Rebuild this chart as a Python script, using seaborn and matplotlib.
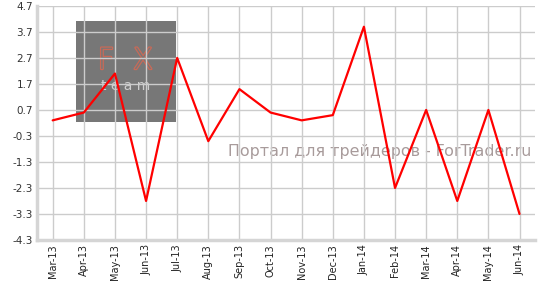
import matplotlib
matplotlib.use("Agg")
import matplotlib.pyplot as plt
import matplotlib.patheffects as pe
from matplotlib.patches import Rectangle
import seaborn as sns
import numpy as np
import pandas as pd

months = ["Mar-13", "Apr-13", "May-13", "Jun-13", "Jul-13", "Aug-13", "Sep-13", "Oct-13",
          "Nov-13", "Dec-13", "Jan-14", "Feb-14", "Mar-14", "Apr-14", "May-14", "Jun-14"]
values = [0.3, 0.6, 2.1, -2.8, 2.7, -0.5, 1.5, 0.6, 0.3, 0.5, 3.9, -2.3, 0.7, -2.8, 0.7, -3.3]
y_ticks = [-4.3, -3.3, -2.3, -1.3, -0.3, 0.7, 1.7, 2.7, 3.7, 4.7]

df = pd.DataFrame({"pos": np.arange(len(months)), "month": months, "value": values})

sns.set_theme(style="white")
plt.rcParams["font.family"] = ["DejaVu Sans"]

fig = plt.figure(figsize=(5.46, 2.82), dpi=100)
ax = fig.add_axes([0.068, 0.149, 0.912, 0.830])

# watermark box and logo
ax.add_patch(Rectangle((0.078, 0.504), 0.201, 0.432, transform=ax.transAxes,
                       facecolor="#777777", edgecolor="none", zorder=0.2))
ax.text(0.177, 0.765, "F  X", transform=ax.transAxes, ha="center", va="center",
        fontsize=21, fontweight="light", color="#777777", zorder=0.3,
        path_effects=[pe.withStroke(linewidth=1.8, foreground="#c86a58")])
ax.text(0.177, 0.66, "t e a m", transform=ax.transAxes, ha="center", va="center",
        fontsize=10, color="#cfcfcf", zorder=0.3)
ax.text(0.688, 0.376, "Портал для трейдеров - ForTrader.ru", transform=ax.transAxes,
        ha="center", va="center", fontsize=11.4, color="#a89b9b", zorder=0.3)

sns.lineplot(data=df, x="pos", y="value", ax=ax, color="#ff0000", linewidth=1.6, zorder=3)

ax.set_xlim(-0.5, 15.5)
ax.set_ylim(-4.3, 4.7)
ax.set_yticks(y_ticks)
ax.set_yticklabels([f"{v:.1f}" for v in y_ticks], fontsize=7.5, color="#333333")
ax.set_xticks(df["pos"])
ax.set_xticklabels(months, rotation=90, fontsize=7, color="#222222")
ax.set_xlabel("")
ax.set_ylabel("")
ax.set_axisbelow(True)
ax.grid(True, color="#cccccc", linewidth=1)
ax.tick_params(axis="both", length=0, pad=3)
for s in ["top", "right"]:
    ax.spines[s].set_visible(False)
for s in ["left", "bottom"]:
    ax.spines[s].set_color("#d5d5d5")
    ax.spines[s].set_linewidth(2.5)

fig.savefig("out.png", dpi=100)
